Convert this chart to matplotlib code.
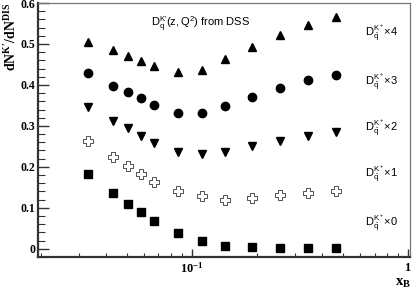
import numpy as np
import matplotlib.pyplot as plt
from matplotlib.ticker import MultipleLocator, NullFormatter, LogLocator

plt.rcParams['mathtext.fontset'] = 'custom'
plt.rcParams['mathtext.rm'] = 'Liberation Sans'
plt.rcParams['mathtext.it'] = 'Liberation Sans:italic'
plt.rcParams['mathtext.bf'] = 'Liberation Serif:bold'

# x_B bins and ratio values for each anti-quark scaling
x_b = [0.033, 0.043, 0.0505, 0.058, 0.067, 0.086, 0.111, 0.142, 0.19, 0.255, 0.344, 0.464]
r_x4 = [0.506, 0.485, 0.471, 0.459, 0.446, 0.432, 0.437, 0.463, 0.492, 0.522, 0.546, 0.567]
r_x3 = [0.429, 0.398, 0.382, 0.369, 0.351, 0.331, 0.331, 0.349, 0.370, 0.392, 0.412, 0.424]
r_x2 = [0.346, 0.312, 0.294, 0.276, 0.258, 0.237, 0.232, 0.237, 0.251, 0.262, 0.276, 0.284]
r_x1 = [0.264, 0.225, 0.201, 0.183, 0.162, 0.140, 0.128, 0.120, 0.124, 0.132, 0.137, 0.141]
r_x0 = [0.183, 0.137, 0.109, 0.089, 0.067, 0.038, 0.020, 0.006, 0.004, 0.003, 0.003, 0.003]

factors = [4, 3, 2, 1, 0]
label_y = [0.527, 0.407, 0.295, 0.183, 0.063]
yticks = [0, 0.1, 0.2, 0.3, 0.4, 0.5, 0.6]
ytick_labels = ['0', '0.1', '0.2', '0.3', '0.4', '0.5', '0.6']
xticks = [0.1, 1]
xtick_labels = [r'$\mathbf{10^{-1}}$', r'$\mathbf{1}$']

fig = plt.figure(figsize=(4.15, 2.9), dpi=100)
ax = fig.add_axes([38/415, 33/290, 372/415, 254/290])

ax.plot(x_b, r_x4, ls='none', marker='^', ms=5.8, color='black')
ax.plot(x_b, r_x3, ls='none', marker='o', ms=6, color='black')
ax.plot(x_b, r_x2, ls='none', marker='v', ms=5.8, color='black')
ax.plot(x_b, r_x1, ls='none', marker='P', ms=6.5, mfc='white', mec='#333333', mew=0.6)
ax.plot(x_b, r_x0, ls='none', marker='s', ms=5.5, color='black')

ax.set_xscale('log')
ax.set_xlim(0.0194, 1.0216)
ax.set_ylim(-0.02, 0.6)

ax.set_xticks(xticks, xtick_labels)
ax.xaxis.set_minor_locator(LogLocator(subs=np.arange(2, 10)))
ax.xaxis.set_minor_formatter(NullFormatter())
ax.set_yticks(yticks, ytick_labels)
ax.yaxis.set_minor_locator(MultipleLocator(0.02))

ax.tick_params(which='both', direction='in', top=False, right=False, colors='#333333')
ax.tick_params(axis='y', which='major', length=8, width=1, pad=2)
ax.tick_params(axis='y', which='minor', length=5, width=0.8)
ax.tick_params(axis='x', which='major', length=5.5, width=1, pad=3)
ax.tick_params(axis='x', which='minor', length=3, width=0.8)
for lbl in ax.get_yticklabels():
    lbl.set_fontfamily('Liberation Serif')
    lbl.set_fontweight('bold')
    lbl.set_fontsize(8.5)
    lbl.set_color('black')
for lbl in ax.get_xticklabels():
    lbl.set_fontsize(9)
    lbl.set_color('black')

for side in ['left', 'bottom']:
    ax.spines[side].set_linewidth(1.6)
    ax.spines[side].set_color('#333333')
for side in ['top', 'right']:
    ax.spines[side].set_linewidth(0.9)
    ax.spines[side].set_color('#777777')

ax.text(-0.072, 1.0, r"$\mathbf{dN^{K\prime}/dN^{DIS}}$", transform=ax.transAxes,
        rotation=90, ha='center', va='top', fontsize=10)
fig.text(403/415, 1 - 282/290, r'$\mathbf{x_B}$', ha='center', va='center', fontsize=10.5)

ax.text(0.0645, 0.548, r"$\mathrm{D_q^{K\prime}(z,Q^2)}$ from DSS", ha='left', va='center',
        fontsize=8, family='Liberation Sans')

for f, yl in zip(factors, label_y):
    ax.text(0.632, yl, r'$\mathrm{D_{\bar{q}}^{K^+}}$' + '\u00d7' + str(f), ha='left', va='center',
            fontsize=8, family='Liberation Sans')

plt.savefig('out.png', dpi=100)
